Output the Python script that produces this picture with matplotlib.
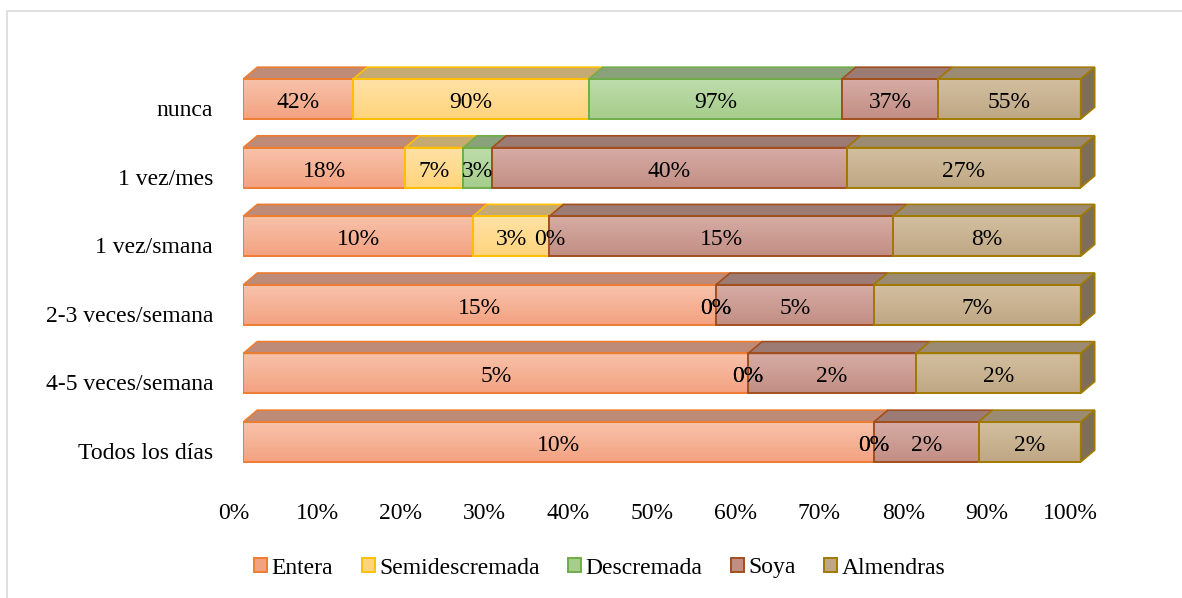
import numpy as np
import matplotlib
matplotlib.use("Agg")
import matplotlib.pyplot as plt
from matplotlib.patches import Rectangle, Polygon, Patch
from matplotlib.lines import Line2D
from matplotlib.colors import LinearSegmentedColormap
from matplotlib.transforms import ScaledTranslation

plt.rcParams.update({
    "font.family": ["Liberation Serif", "DejaVu Serif"],
    "font.size": 17,
})

# ---- data (shares per milk type; bars are 100% stacked) ----
categories = ["nunca", "1 vez/mes", "1 vez/smana", "2-3 veces/semana",
              "4-5 veces/semana", "Todos los días"]
series = ["Entera", "Semidescremada", "Descremada", "Soya", "Almendras"]
entera = [42.1, 18.4, 9.9, 15.3, 4.6, 10.0]
semidescremada = [90.3, 6.6, 3.3, 0.0, 0.0, 0.0]
descremada = [97.0, 3.3, 0.0, 0.0, 0.0, 0.0]
soya = [36.9, 40.3, 14.8, 5.1, 1.53, 1.66]
almendras = [54.6, 26.6, 8.1, 6.7, 1.5, 1.62]
xticks = [0, 0.1, 0.2, 0.3, 0.4, 0.5, 0.6, 0.7, 0.8, 0.9, 1.0]

# ---- styles: (front light, front dark, edge, top face) ----
STY = {
    "Entera":         ("#f8c2aa", "#f3a281", "#ed7d31", "#bd8b78"),
    "Semidescremada": ("#ffe2a6", "#ffd47c", "#ffc000", "#c6aa74"),
    "Descremada":     ("#bddcab", "#a6cd8b", "#70ad47", "#89a27c"),
    "Soya":           ("#d6aca4", "#c28e84", "#a24f1f", "#9b7b74"),
    "Almendras":      ("#d2bf9f", "#bfa784", "#a27a00", "#9c8b73"),
}
SIDE = "#7e6e58"

vals = np.array([entera, semidescremada, descremada, soya, almendras])
shares = vals / vals.sum(axis=0)

fig = plt.figure(figsize=(11.82, 5.98), dpi=100)
W, H = 1182, 598
ax = fig.add_axes([243.3 / W, 1 - 495 / H, (1080.7 - 243.3) / W, (495 - 30) / H])

h = 40 / 68.6          # front face height (data units)
dx = 14 / 837.4        # depth offset, x
dy = 11.8 / 68.6       # depth offset, y
ypos = np.arange(len(categories))

for r, y in enumerate(ypos):
    left = 0.0
    top = y - h / 2
    for s, name in enumerate(series):
        w = shares[s, r]
        light, dark, edge, topc = STY[name]
        if w > 0:
            # front face with vertical gradient
            rect = Rectangle((left, top), w, h, facecolor="none", edgecolor=edge,
                             lw=1.4, zorder=3)
            ax.add_patch(rect)
            cmap = LinearSegmentedColormap.from_list(name, [light, dark])
            im = ax.imshow(np.linspace(0, 1, 60).reshape(-1, 1), cmap=cmap,
                           extent=(left, left + w, top + h, top), aspect="auto",
                           interpolation="bilinear", zorder=2)
            im.set_clip_path(rect)
            # top face
            ax.add_patch(Polygon([(left, top), (left + w, top),
                                  (left + w + dx, top - dy), (left + dx, top - dy)],
                                 closed=True, facecolor=topc, edgecolor=edge,
                                 lw=1.2, zorder=2.5, clip_on=False))
        ax.text(left + w / 2, y + 0.05, f"{int(vals[s, r] + 0.5)}%",
                ha="center", va="center", fontsize=17, zorder=5)
        left += w
    # right side face of the last segment
    edge = STY[series[-1]][2]
    ax.add_patch(Polygon([(1, top), (1, top + h), (1 + dx, top + h - dy),
                          (1 + dx, top - dy)], closed=True, facecolor=SIDE,
                         edgecolor=edge, lw=1.2, zorder=2.5, clip_on=False))

ax.set_xlim(0, 1)
ax.set_ylim(5.773, -1.006)
for sp in ax.spines.values():
    sp.set_visible(False)
ax.set_xticks(xticks)
ax.set_xticklabels([f"{int(round(t * 100))}%" for t in xticks])
ax.set_yticks(ypos)
ax.set_yticklabels(categories)
ax.tick_params(axis="x", length=0, pad=5.8)
ax.tick_params(axis="y", length=0, pad=21.8)
for lab in ax.get_xticklabels():
    lab.set_transform(lab.get_transform() + ScaledTranslation(-0.10, 0, fig.dpi_scale_trans))
for lab in ax.get_yticklabels():
    lab.set_transform(lab.get_transform() + ScaledTranslation(0, -0.09, fig.dpi_scale_trans))

handles = [Patch(facecolor=STY[n][1], edgecolor=STY[n][2], lw=1.4) for n in series]
fig.legend(handles, series, loc="center", bbox_to_anchor=(600 / W, 1 - 568 / H),
           ncol=5, frameon=False, handlelength=0.55, handleheight=0.55,
           handletextpad=0.2, columnspacing=1.2, borderpad=0, fontsize=17)

# light chart-area border (top and left edges visible)
fig.add_artist(Line2D([7 / W, 7 / W, 1.0], [0.0, 1 - 10.7 / H, 1 - 10.7 / H],
                      color="#d9d9d9", lw=1.2, transform=fig.transFigure))

fig.savefig("out.png", dpi=100)
